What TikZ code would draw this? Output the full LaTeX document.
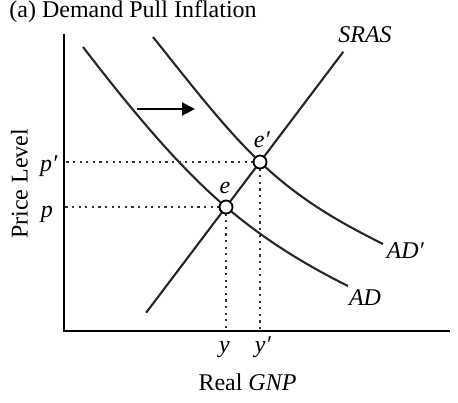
\documentclass[tikz,border=0pt]{standalone}
\usepackage{fontspec}
\setmainfont{Liberation Serif}
\usetikzlibrary{arrows.meta,calc,positioning}

\begin{document}
\begin{tikzpicture}[x=5pt,y=5pt,font=\fontsize{12}{14}\selectfont,
  curve/.style={line width=1.05pt,black!85},
  guide/.style={line width=1.1pt,dash pattern=on 1.1pt off 2.2pt,black!80},
  eqpt/.style={circle,draw,line width=0.9pt,fill=white,minimum size=6.5pt,inner sep=0pt},
  lbl/.style={anchor=base,inner sep=0pt}]
  \useasboundingbox (-6.4,-7.1) rectangle (39.4,33.1);
  \coordinate (O) at (0,0);
  \coordinate (ytop) at (0,29.7);
  \coordinate (xend) at (38.6,0);
  \coordinate (e) at (16.2,12.4);
  \coordinate (ep) at (19.6,16.9);
  \draw[guide] (e) -- (e -| O);
  \draw[guide] (e) -- (e |- O);
  \draw[guide] (ep) -- (ep -| O);
  \draw[guide] (ep) -- (ep |- O);
  \draw[line width=0.8pt] (ytop) -- (O) -- (xend);
  \draw[curve] ($(e)!-2.35!(ep)$) coordinate (srasA) -- ($(e)!3.45!(ep)$) coordinate (srasB);
  \draw[curve] (1.9,28.4) coordinate (adA) .. controls (6.67,22.2) and (11.43,16.45) .. (e)
    .. controls (20.27,8.94) and (24.33,6.53) .. (28.4,4.5) coordinate (adB);
  \draw[curve] (8.9,29.4) coordinate (adpA) .. controls (12.47,24.94) and (16.03,20.29) .. (ep)
    .. controls (23.7,13.0) and (27.8,10.75) .. (31.9,8.7) coordinate (adpB);
  \coordinate (shiftA) at (7.3,22.2);
  \coordinate (shiftB) at (13.1,22.2);
  \draw[line width=1pt,-{Triangle[length=6.5pt,width=6.5pt]}] (shiftA) -- (shiftB);
  \node[eqpt] (E) at (e) {};
  \node[eqpt] (Ep) at (ep) {};
  \node[lbl] (elbl) at (16.1,13.8) {\textit{e}};
  \node[lbl] (eplbl) at (19.8,18.4) {\textit{e′}};
  \node[lbl] (sraslbl) at (30.1,28.8) {\textit{SRAS}};
  \node[lbl] (adlbl) at (30.1,2.6) {\textit{AD}};
  \node[lbl] (adplbl) at (34.15,7.3) {\textit{AD′}};
  \node[lbl] (plbl) at (-1.7,11.4) {\textit{p}};
  \node[lbl] (pplbl) at (-1.5,15.95) {\textit{p′}};
  \node[lbl] (ylbl) at (16.05,-2.15) {\textit{y}};
  \node[lbl] (yplbl) at (19.9,-2.15) {\textit{y′}};
  \node[lbl] (xtitle) at (18.35,-5.97) {Real \textit{GNP}};
  \node[lbl,rotate=90] (ytitle) at (-3.65,14.7) {Price Level};
  \node[anchor=base west,inner sep=0pt] (title) at (-5.5,31.3) {(a) Demand Pull Inflation};
\end{tikzpicture}
\end{document}
